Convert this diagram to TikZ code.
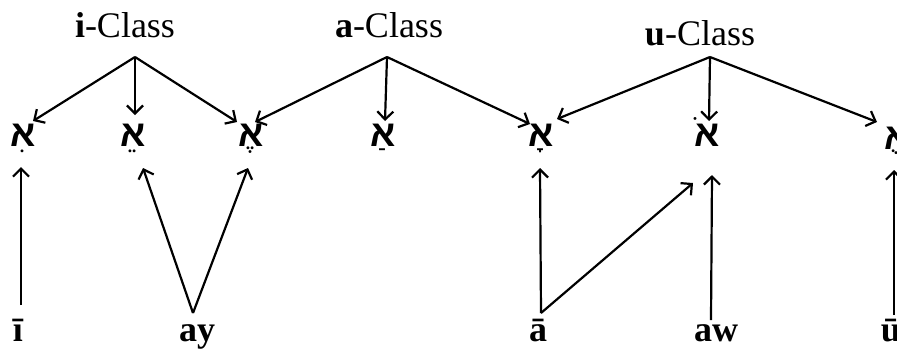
\documentclass[tikz,border=0pt]{standalone}
\usepackage{fontspec}
\setmainfont{Liberation Serif}
\newfontfamily\hebfont[Script=Hebrew]{Liberation Sans}
\TeXXeTstate=1
\usetikzlibrary{arrows.meta,calc}
\begin{document}
\begin{tikzpicture}[x=1pt,y=-1pt,
  cls/.style={anchor=base,inner sep=0pt,font=\fontsize{36}{38}\selectfont},
  heb/.style={anchor=base,inner sep=0pt,font=\hebfont\bfseries\fontsize{37}{40}\selectfont},
  src/.style={anchor=base,inner sep=0pt,font=\bfseries\fontsize{36}{38}\selectfont},
  arr/.style={line width=2.2pt,-{Straight Barb[length=8pt,width=16pt,line width=2.2pt]}}]
\useasboundingbox (0,0) rectangle (897,349);
\clip (0,0) rectangle (897,349);
% class labels
\node[cls] (ic) at (125,37) {\textbf{i}-Class};
\node[cls] (ac) at (389,37) {\textbf{a}-Class};
\node[cls] (uc) at (700,45) {\textbf{u}-Class};
\coordinate (iap) at (135,57);
\coordinate (aap) at (387,57);
\coordinate (uap) at (710,57);
% alephs
\node[heb] (a1) at (23,146) {\beginR אִ\endR};
\node[heb] (a2) at (133,146) {\beginR אֵ\endR};
\node[heb] (a3) at (251,146) {\beginR אֶ\endR};
\node[heb] (a4) at (383,146) {\beginR אַ\endR};
\node[heb] (a5) at (541,146) {\beginR אָ\endR};
\node[heb] (a6) at (707,146) {\beginR אֹ\endR};
\node[heb] (a7) at (897,149) {\beginR אֻ\endR};
% sources
\node[src] (b1) at (18,341) {ī};
\node[src] (b2) at (197,341) {ay};
\node[src] (b3) at (538,341) {ā};
\node[src] (b4) at (716,341) {aw};
\node[src] (b5) at (891,341) {ū};
% top arrows
\draw[arr] (iap) -- ($(a1.base)+(10,-25)$);
\draw[arr] (iap) -- ($(a2.base)+(2,-31)$);
\draw[arr] (iap) -- ($(a3.base)+(-14,-24)$);
\draw[arr] (aap) -- ($(a3.base)+(4,-24)$);
\draw[arr] (aap) -- ($(a4.base)+(2,-25)$);
\draw[arr] (aap) -- ($(a5.base)+(-11,-22)$);
\draw[arr] (uap) -- ($(a5.base)+(16,-27)$);
\draw[arr] (uap) -- ($(a6.base)+(2,-25)$);
\draw[arr] (uap) -- ($(a7.base)+(-20,-27)$);
% bottom arrows
\draw[arr] ($(b1.base)+(3,-36)$) -- ($(a1.base)+(-2,21)$);
\draw[arr] ($(b2.base)+(-4,-28)$) -- ($(a2.base)+(10,22)$);
\draw[arr] ($(b2.base)+(-4,-28)$) -- ($(a3.base)+(-3,22)$);
\draw[arr] ($(b3.base)+(3,-28)$) -- ($(a5.base)+(-1,22)$);
\draw[arr] ($(b3.base)+(3,-28)$) -- ($(a6.base)+(-14,37)$);
\draw[arr] ($(b4.base)+(-5,-21)$) -- ($(a6.base)+(5,29)$);
\draw[arr] ($(b5.base)+(3,-26)$) -- ($(a7.base)+(-3,21)$);
\end{tikzpicture}
\end{document}
